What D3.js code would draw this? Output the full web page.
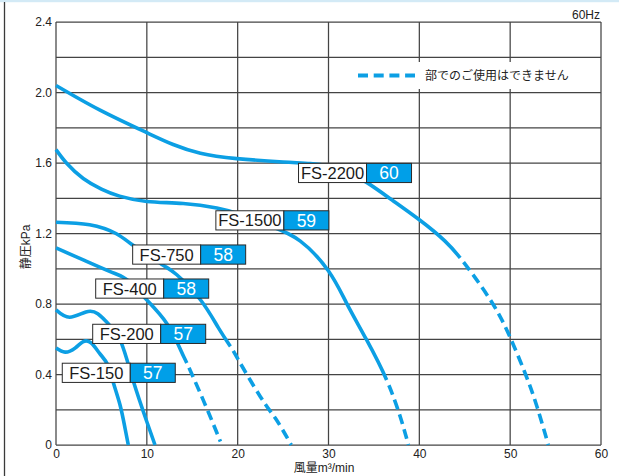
<!DOCTYPE html>
<html><head><meta charset="utf-8">
<script src="https://cdn.jsdelivr.net/npm/d3@7"></script>
<style>
body{margin:0;background:#fff}
svg{display:block}
text{font-family:"Liberation Sans",Arial,"Noto Sans CJK JP",sans-serif}
</style>
</head><body>
<svg id="chart" width="619" height="476"></svg>
<script>
// ---------- data ----------
const xTicks = [0, 10, 20, 30, 40, 50, 60];
const yTicks = [0, 0.4, 0.8, 1.2, 1.6, 2.0, 2.4];
const yGridValues = [0, 0.2, 0.4, 0.6, 0.8, 1.0, 1.2, 1.4, 1.6, 1.8, 2.0, 2.2, 2.4];

const models = ["FS-2200", "FS-1500", "FS-750", "FS-400", "FS-200", "FS-150"];
const noiseDb = ["60", "59", "58", "58", "57", "57"];

const flow2200 = [0, 4.85, 10, 12.9, 15.9, 19.9, 25, 28, 30, 32, 34.2, 37, 40, 42.8, 45.2, 48.1, 50, 51.7, 53, 54.2];
const pres2200 = [2.04, 1.90, 1.772, 1.705, 1.655, 1.625, 1.606, 1.597, 1.583, 1.55, 1.49, 1.39, 1.278, 1.158, 1.015, 0.80, 0.61, 0.40, 0.21, 0];

const flow1500 = [0, 1.2, 3, 5, 7, 10, 14, 17.7, 20.3, 23.6, 26.9, 30, 32, 34.2, 36.4, 37.9, 38.8];
const pres1500 = [1.676, 1.597, 1.512, 1.452, 1.412, 1.382, 1.37, 1.345, 1.308, 1.243, 1.157, 0.987, 0.804, 0.596, 0.369, 0.16, 0];

const flow750 = [0, 3.7, 6.6, 8.4, 10, 11.8, 13.3, 15.9, 17.9, 19.2, 20, 22.5, 24.3, 25.9];
const pres750 = [1.264, 1.25, 1.20, 1.136, 1.085, 1.02, 0.966, 0.824, 0.663, 0.56, 0.49, 0.274, 0.14, 0];

const flow400 = [0, 3, 5.9, 7.4, 8.6, 9.8, 12.2, 13.8, 14.4, 16.2, 18.1];
const pres400 = [1.118, 1.05, 0.985, 0.952, 0.905, 0.834, 0.69, 0.53, 0.465, 0.256, 0.02];

const flow200 = [0, 1.5, 3.3, 4.6, 5.9, 7.2, 8.5, 10, 10.9];
const pres200 = [0.767, 0.725, 0.755, 0.745, 0.68, 0.578, 0.364, 0.132, 0];

const flow150 = [0, 1.0, 2.1, 3.0, 3.9, 4.8, 5.7, 6.3, 7.05, 7.6, 7.96];
const pres150 = [0.55, 0.527, 0.55, 0.587, 0.578, 0.52, 0.455, 0.356, 0.227, 0.095, 0];

// flow value where the curve turns into the "not usable" dashed part
const dashFrom = [44.5, 36.4, 19.2, 14.4, null, null];

const flows = [flow2200, flow1500, flow750, flow400, flow200, flow150];
const pressures = [pres2200, pres1500, pres750, pres400, pres200, pres150];

// ---------- layout (label box anchors, in axis units: top-left corner) ----------
const labelFlow = [26.7, 17.6, 8.44, 4.37, 4.04, 0.69];
const labelPres = [1.598, 1.329, 1.135, 0.942, 0.685, 0.464];

const legendText = "部でのご使用はできません";
const hzText = "60Hz";
const yTitle = "静圧kPa";
const xTitle = "風量m³/min";

// ---------- drawing ----------
const svg = d3.select("#chart");
const W = 619, H = 476;
const blueLine = "#0c9fe4";
const blueBox = "#009fe8";
const gridCol = "#444";
const dashOn = 10, dashOff = 5.5;

svg.append("rect").attr("width", W).attr("height", H).attr("fill", "#fff");
svg.append("rect").attr("x", 0).attr("y", 0).attr("width", W).attr("height", 2.2).attr("fill", "#d3eaf6");
svg.append("line").attr("x1", 4.5).attr("x2", 4.5).attr("y1", 2).attr("y2", H).attr("stroke", "#3a3a3a").attr("stroke-width", 1.3);

const x = d3.scaleLinear().domain([0, 60]).range([56, 601]);
const y = d3.scaleLinear().domain([0, 2.4]).range([445, 22]);

// grid
const g = svg.append("g");
g.selectAll("line.v").data(xTicks).join("line")
  .attr("x1", d => x(d)).attr("x2", d => x(d))
  .attr("y1", y(0)).attr("y2", y(2.4))
  .attr("stroke", gridCol).attr("stroke-width", 1.25);
g.selectAll("line.h").data(yGridValues).join("line")
  .attr("x1", x(0)).attr("x2", x(60))
  .attr("y1", d => y(d)).attr("y2", d => y(d))
  .attr("stroke", gridCol).attr("stroke-width", 1.25);

// axes tick labels via d3 axes
const xAxis = d3.axisBottom(x).tickValues(xTicks).tickSize(0).tickPadding(4).tickFormat(d3.format("d"));
const yAxis = d3.axisLeft(y).tickValues(yTicks).tickSize(0).tickPadding(4)
  .tickFormat(d => d === 0 ? "0" : d3.format(".1f")(d));
const xa = svg.append("g").attr("transform", `translate(0,${y(0)})`).call(xAxis);
const ya = svg.append("g").attr("transform", `translate(${x(0)},0)`).call(yAxis);
[xa, ya].forEach(a => {
  a.select(".domain").remove();
  a.selectAll("text").attr("font-size", 12).attr("fill", "#222")
    .attr("font-family", "'Liberation Sans',Arial,sans-serif");
});

// legend (white backing hides the grid)
svg.append("rect").attr("x", 350).attr("y", 62).attr("width", 232).attr("height", 27).attr("fill", "#fff");
svg.append("line").attr("x1", 358).attr("x2", 415).attr("y1", 75.5).attr("y2", 75.5)
  .attr("stroke", blueLine).attr("stroke-width", 4).attr("stroke-dasharray", "10,5.7");
svg.append("text").attr("x", 425).attr("y", 80).attr("font-size", 12).attr("fill", "#222")
  .attr("font-family", "'Noto Sans CJK JP',sans-serif").text(legendText);

svg.append("text").attr("x", 600).attr("y", 18.5).attr("text-anchor", "end")
  .attr("font-size", 12).attr("fill", "#222").text(hzText);

svg.append("text").attr("transform", "translate(29.5,247) rotate(-90)")
  .attr("text-anchor", "middle").attr("font-size", 12).attr("fill", "#222").text(yTitle);
svg.append("text").attr("x", 324).attr("y", 472).attr("text-anchor", "middle")
  .attr("font-size", 12).attr("fill", "#222").text(xTitle);

// curves: one continuous path each; the part after dashFrom is dashed
const line = d3.line().x(d => x(d[0])).y(d => y(d[1])).curve(d3.curveNatural);
const curves = svg.append("g");
models.forEach((m, i) => {
  const pts = flows[i].map((f, j) => [f, pressures[i][j]]);
  const path = curves.append("path").attr("d", line(pts)).attr("fill", "none")
    .attr("stroke", blueLine).attr("stroke-width", 3.6).attr("stroke-linecap", "butt");
  const cut = dashFrom[i];
  if (cut != null) {
    const node = path.node();
    const total = node.getTotalLength();
    const xc = x(cut);
    let lo = 0, hi = total;
    for (let k = 0; k < 40; k++) {
      const mid = (lo + hi) / 2;
      if (node.getPointAtLength(mid).x < xc) lo = mid; else hi = mid;
    }
    const arr = [lo];
    let s = lo;
    while (s < total) { arr.push(dashOff, dashOn); s += dashOff + dashOn; }
    arr.push(total);
    path.attr("stroke-dasharray", arr.map(v => v.toFixed(2)).join(","));
  }
});

// label boxes
const boxH = 19.2, whiteW = 68, blueW = 45;
models.forEach((m, i) => {
  const bx = x(labelFlow[i]), by = y(labelPres[i]);
  const lg = svg.append("g");
  lg.append("rect").attr("x", bx).attr("y", by).attr("width", whiteW).attr("height", boxH)
    .attr("fill", "#fff").attr("stroke", "#2a2a2a").attr("stroke-width", 1);
  lg.append("rect").attr("x", bx + whiteW).attr("y", by).attr("width", blueW).attr("height", boxH)
    .attr("fill", blueBox).attr("stroke", "#2a2a2a").attr("stroke-width", 1);
  lg.append("text").attr("x", bx + whiteW / 2).attr("y", by + 15.6).attr("text-anchor", "middle")
    .attr("font-size", 16.5).attr("fill", "#1a1a1a").text(m);
  lg.append("text").attr("x", bx + whiteW + blueW / 2).attr("y", by + 15.8).attr("text-anchor", "middle")
    .attr("font-size", 17.5).attr("fill", "#fff").text(noiseDb[i]);
});
</script>
</body></html>
